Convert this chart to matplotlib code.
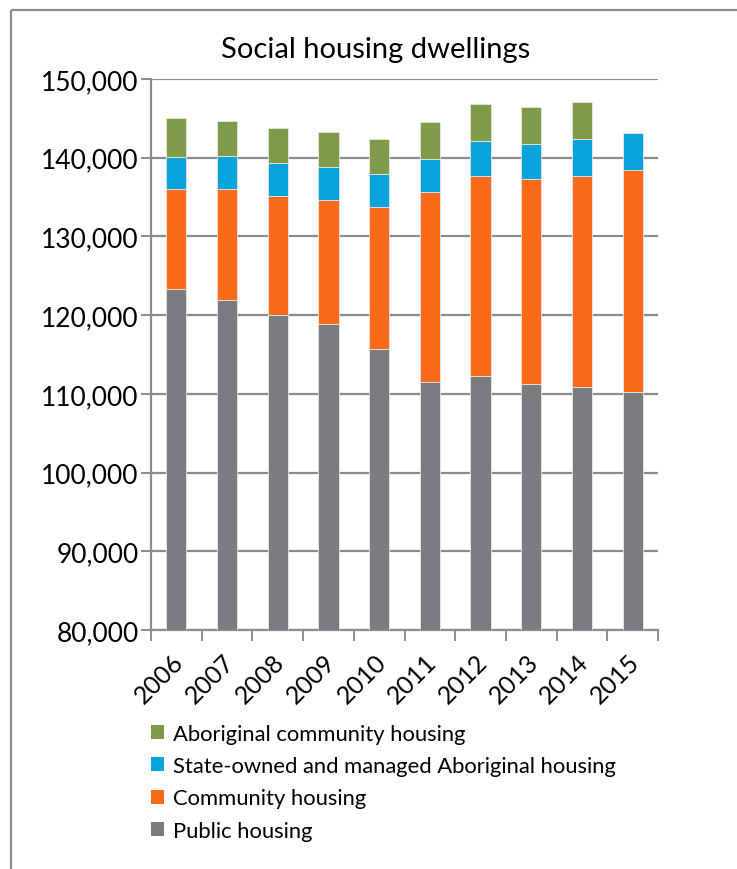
import os

os.environ.setdefault("MPLBACKEND", "Agg")
import matplotlib.pyplot as plt
import matplotlib.transforms as mtransforms
from matplotlib.lines import Line2D
from matplotlib.patches import Patch
from matplotlib.ticker import FuncFormatter
import numpy as np

years = ["2006", "2007", "2008", "2009", "2010", "2011", "2012", "2013", "2014", "2015"]
public_housing = [123270, 121870, 120010, 118870, 115690, 111500, 112260, 111200, 110810, 110230]
community_housing = [12700, 14150, 15120, 15790, 18000, 24140, 25410, 26040, 26900, 28210]
state_owned_aboriginal = [4120, 4200, 4200, 4110, 4190, 4230, 4450, 4500, 4620, 4650]
aboriginal_community = [4990, 4480, 4480, 4490, 4450, 4700, 4740, 4740, 4790, 0]

series_names = [
    "Public housing",
    "Community housing",
    "State-owned and managed Aboriginal housing",
    "Aboriginal community housing",
]
colors = ["#7b7c80", "#f96b1b", "#08a3db", "#7f9a48"]

plt.rcParams["font.family"] = ["Lato", "DejaVu Sans"]

fig = plt.figure(figsize=(7.37, 8.70), dpi=100)
ax = fig.add_axes([151 / 737, 1 - 631 / 870, 507 / 737, 551 / 870])

x = np.arange(len(years))
bottom = np.zeros(len(years))
for name, values, color in zip(series_names,
                               [public_housing, community_housing,
                                state_owned_aboriginal, aboriginal_community],
                               colors):
    vals = np.array(values, dtype=float)
    ax.bar(x, vals, 0.4, bottom=bottom, color=color, edgecolor="#e6e6e6",
           linewidth=0.6, zorder=3, label=name)
    bottom += vals

ax.set_ylim(80000, 150000)
ax.set_xlim(-0.5, len(years) - 0.5)
ax.set_yticks(np.arange(80000, 150001, 10000))
ax.yaxis.set_major_formatter(FuncFormatter(lambda v, _: f"{int(v):,}"))
ax.yaxis.grid(True, color="#8c8c8c", linewidth=1.6, zorder=0)

ax.set_xticks(x)
ax.set_xticklabels(years, rotation=45, ha="right", va="top", rotation_mode="anchor")
ax.set_xticks(np.arange(-0.5, len(years)), minor=True)
ax.tick_params(axis="x", which="major", length=0, pad=14, labelsize=18)
ax.tick_params(axis="x", which="minor", length=8, width=1.4, color="#8c8c8c")
ax.tick_params(axis="y", length=7, width=1.4, color="#8c8c8c", labelsize=19, pad=2)
shift = mtransforms.ScaledTranslation(-5 / 100, 0, fig.dpi_scale_trans)
for label in ax.get_xticklabels():
    label.set_transform(label.get_transform() + shift)

for side in ["top", "right"]:
    ax.spines[side].set_visible(False)
for side in ["left", "bottom"]:
    ax.spines[side].set_color("#8c8c8c")
    ax.spines[side].set_linewidth(1.6)

fig.text(376 / 737, 1 - 50 / 870, "Social housing dwellings", ha="center", va="center",
         fontsize=21)

handles = [Patch(facecolor=c) for c in colors[::-1]]
fig.legend(handles, series_names[::-1], loc="upper left",
           bbox_to_anchor=(142 / 737, 1 - 716 / 870), frameon=False,
           fontsize=15.8, handlelength=0.62, handleheight=0.62, handletextpad=0.4,
           labelspacing=0.56, borderaxespad=0)

# outer chart frame (only top and left edges visible in the crop)
fig.add_artist(Line2D([11 / 737, 1.02], [1 - 11 / 870, 1 - 11 / 870],
                      color="#8c8c8c", linewidth=1.6, solid_capstyle="butt"))
fig.add_artist(Line2D([11 / 737, 11 / 737], [-0.02, 1 - 11 / 870],
                      color="#8c8c8c", linewidth=1.6, solid_capstyle="butt"))

fig.savefig("out.png", dpi=100)
plt.close(fig)
